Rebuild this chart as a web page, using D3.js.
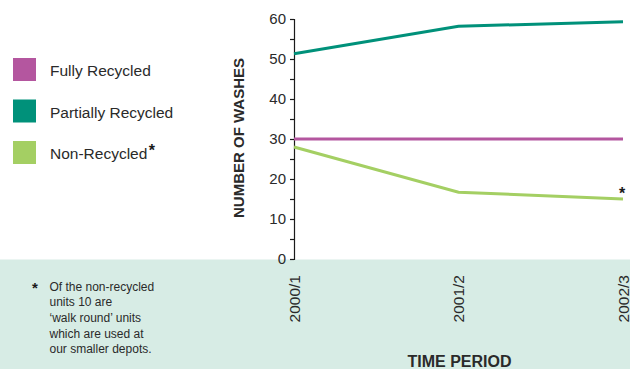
<!DOCTYPE html>
<html>
<head>
<meta charset="utf-8">
<script src="https://cdn.jsdelivr.net/npm/d3@7"></script>
<style>
  html, body { margin: 0; padding: 0; background: #fff; }
  svg { display: block; font-family: "Liberation Sans", Arial, Helvetica, sans-serif; }
</style>
</head>
<body>
<svg id="chart" width="630" height="369"></svg>
<script>
// Vehicle wash units by recycling type, per financial year
const periods = ["2000/1", "2001/2", "2002/3"];
const fullyRecycled = [30, 30, 30];
const partiallyRecycled = [51.3, 58.2, 59.3];
const nonRecycled = [28, 16.7, 15];
const yTicks = [0, 10, 20, 30, 40, 50, 60];
const seriesNames = ["Fully Recycled", "Partially Recycled", "Non-Recycled"];
const seriesColors = ["#b4569f", "#00917a", "#a4cf63"];
const footnoteLines = [
  "Of the non-recycled",
  "units 10 are",
  "\u2018walk round\u2019 units",
  "which are used at",
  "our smaller depots."
];

const svg = d3.select("#chart");
const textColor = "#2a2a2a";

// shaded band behind the period labels and footnote
svg.append("rect")
  .attr("x", 0).attr("y", 259.5)
  .attr("width", 630).attr("height", 110)
  .attr("fill", "#d7ece5");

const x = d3.scalePoint().domain(periods).range([294, 623]);
const y = d3.scaleLinear().domain([0, 60]).range([259, 19]);

// y axis: labelled ticks every 10, minor ticks every 5
const yAxis = d3.axisLeft(y)
  .tickValues(d3.range(0, 61, 5))
  .tickSize(4)
  .tickFormat(d => yTicks.includes(d) ? d : "");
const gy = svg.append("g")
  .attr("transform", `translate(${x(periods[0])},0)`)
  .call(yAxis);
gy.select(".domain").attr("stroke", "#1a1a1a").attr("stroke-width", 1.2);
gy.selectAll(".tick line").attr("stroke", "#1a1a1a").attr("stroke-width", 1.2);
gy.selectAll(".tick text")
  .attr("x", -8)
  .attr("fill", textColor)
  .style("font-size", "15px")
  .style("font-family", "'Liberation Sans', Arial, sans-serif");

// period labels, rotated
svg.append("g").selectAll("text")
  .data(periods)
  .join("text")
  .attr("transform", d => `translate(${x(d) + 5.5},275) rotate(-90)`)
  .attr("text-anchor", "end")
  .attr("fill", textColor)
  .style("font-size", "15.5px")
  .text(d => d);

// axis titles
svg.append("text")
  .attr("transform", "translate(244,138) rotate(-90)")
  .attr("text-anchor", "middle")
  .attr("fill", textColor)
  .style("font-size", "15px")
  .style("font-weight", "bold")
  .text("NUMBER OF WASHES");

svg.append("text")
  .attr("x", 459.5).attr("y", 367)
  .attr("text-anchor", "middle")
  .attr("fill", textColor)
  .style("font-size", "16px")
  .style("font-weight", "bold")
  .text("TIME PERIOD");

// series lines
const series = [fullyRecycled, partiallyRecycled, nonRecycled];
const line = d3.line()
  .x((d, i) => x(periods[i]))
  .y(d => y(d));
svg.append("g").selectAll("path")
  .data(series)
  .join("path")
  .attr("d", line)
  .attr("fill", "none")
  .attr("stroke", (d, i) => seriesColors[i])
  .attr("stroke-width", 3);

// asterisk marking the non-recycled series end
svg.append("text")
  .attr("x", x(periods[2]) - 1)
  .attr("y", y(nonRecycled[2]))
  .attr("text-anchor", "middle")
  .attr("fill", "#1a1a1a")
  .style("font-size", "16px")
  .style("font-weight", "bold")
  .text("*");

// legend
const legend = svg.append("g").selectAll("g")
  .data(seriesNames)
  .join("g")
  .attr("transform", (d, i) => `translate(13,${58 + i * 41.5})`);
legend.append("rect")
  .attr("width", 23).attr("height", 23)
  .attr("fill", (d, i) => seriesColors[i]);
const legendText = legend.append("text")
  .attr("x", 37).attr("y", 18)
  .attr("fill", textColor)
  .style("font-size", "15.5px")
  .text(d => d);
legend.filter((d, i) => i === 2).append("text")
  .attr("x", 37 + legendText.filter((d, i) => i === 2).node().getComputedTextLength() + 1.5)
  .attr("y", 15)
  .attr("fill", "#1a1a1a")
  .style("font-size", "16px")
  .style("font-weight", "bold")
  .text("*");

// footnote
svg.append("text")
  .attr("x", 32).attr("y", 293)
  .attr("fill", "#1a1a1a")
  .style("font-size", "15px")
  .style("font-weight", "bold")
  .text("*");
svg.append("g").selectAll("text")
  .data(footnoteLines)
  .join("text")
  .attr("x", 49.5)
  .attr("y", (d, i) => 290.5 + i * 15.7)
  .attr("fill", textColor)
  .style("font-size", "12px")
  .text(d => d);
</script>
</body>
</html>
